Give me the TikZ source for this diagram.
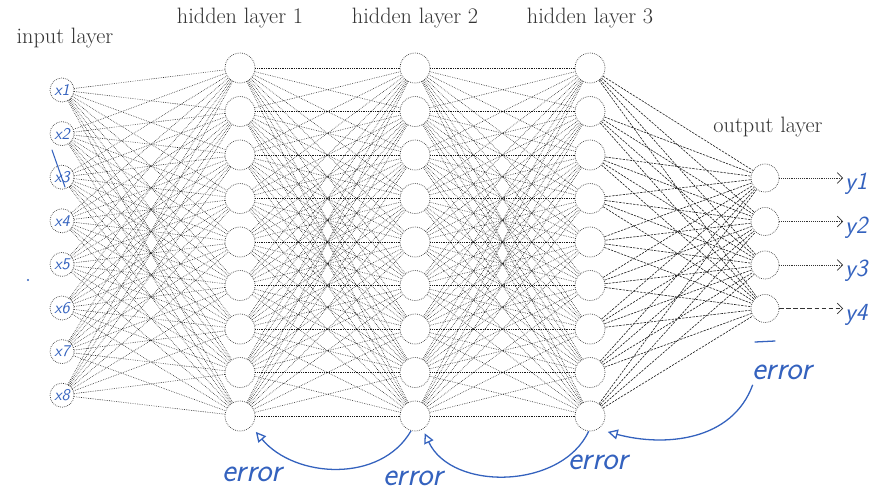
\documentclass[tikz,border=0pt]{standalone}
\usepackage{fontspec}
\usepackage{tikz}
\usetikzlibrary{arrows.meta,positioning,calc}
\definecolor{inkblue}{RGB}{52,98,190}
\tikzset{
  >={Stealth[length=2.2mm]},
  inunit/.style={circle,draw=black!80,densely dotted,line width=0.6pt,
    minimum size=7.2mm,inner sep=0pt,font=\fontsize{14}{15}\sffamily\itshape\selectfont,text=inkblue},
  hidunit/.style={circle,draw=black!80,densely dotted,line width=0.6pt,
    minimum size=9mm,inner sep=0pt},
  outunit/.style={circle,draw=black!80,densely dotted,line width=0.6pt,
    minimum size=8.4mm,inner sep=0pt},
  conn/.style={black!90,densely dotted,line width=0.5pt},
  outconn/.style={black!90,dashed,dash pattern=on 2pt off 1pt,line width=0.5pt},
  yarr/.style={-{Straight Barb[length=1.6mm]},black!80,densely dotted,line width=0.6pt},
  layerlbl/.style={font=\fontsize{19}{21}\selectfont,text=black!80,inner sep=1pt},
  hand/.style={font=\fontsize{28}{30}\sffamily\itshape\selectfont,text=inkblue,inner sep=1pt},
  outlbl/.style={font=\fontsize{21}{23}\sffamily\itshape\selectfont,text=inkblue,inner sep=0pt},
  errarr/.style={inkblue,line width=1.1pt,-{Triangle[open,length=3mm,width=3mm]}},
}
\begin{document}
\begin{tikzpicture}[x=0.03cm,y=-0.03cm]
  \useasboundingbox (0,0) rectangle (875,495);
  % layer titles
  \node[layerlbl] (tin) at (65,38) {input layer};
  \node[layerlbl] (th1) at (240,18) {hidden layer 1};
  \node[layerlbl] (th2) at (415,18) {hidden layer 2};
  \node[layerlbl] (th3) at (590,18) {hidden layer 3};
  \node[layerlbl] (tout) at (768,127) {output layer};
  % units
  \foreach \i in {1,...,8}
    \node[inunit] (i\i) at (62,{90+(\i-1)*43.6}) {x\i};
  \foreach \j in {1,...,9} {
    \node[hidunit] (a\j) at (240,{68+(\j-1)*43.5}) {};
    \node[hidunit] (b\j) at (415,{68+(\j-1)*43.5}) {};
    \node[hidunit] (c\j) at (590,{68+(\j-1)*43.5}) {};
  }
  \foreach \k in {1,...,4}
    \node[outunit] (o\k) at (765,{178+(\k-1)*43.5}) {};
  % weights
  \foreach \i in {1,...,8}
    \foreach \j in {1,...,9}
      \draw[conn] (i\i) -- (a\j);
  \foreach \i in {1,...,9}
    \foreach \j in {1,...,9} {
      \draw[conn] (a\i) -- (b\j);
      \draw[conn] (b\i) -- (c\j);
    }
  \foreach \i in {1,...,9}
    \foreach \k in {1,...,4}
      \draw[outconn] (c\i) -- (o\k);
  % outputs
  \foreach \k in {1,...,4} {
    \coordinate (t\k) at (843,{178+(\k-1)*43.5});
    \node[outlbl,anchor=west] (y\k) at (845,{184+(\k-1)*43.5}) {y\k};
  }
  \foreach \k in {1,2,3}
    \draw[yarr] (o\k) -- (t\k);
  \draw[yarr,solid,dash pattern=on 4pt off 2pt] (o4) -- (t4);
  % handwritten errors
  \node[hand] (e1) at (252,474) {error};
  \node[hand] (e2) at (413,478) {error};
  \node[hand] (e3) at (598,462) {error};
  \node[hand] (e4) at (782,372) {error};
  \draw[errarr] ($(e4.south west)+(2,4)$) to[out=-110,in=-15] ($(c9.-40)+(6,6)$);
  \draw[errarr] (c9.-95) to[out=-115,in=-65] ($(b9.-60)+(2,4)$);
  \draw[errarr] (b9.-105) to[out=-120,in=-50] ($(a9.-45)+(5,5)$);
  % stray pen marks
  \draw[inkblue,line width=1.1pt,line cap=round] (755,342) -- (775,341);
  \fill[inkblue] (28,280) circle (1.2);
  \draw[inkblue,line width=0.9pt,line cap=round] (52,150) -- (65,187);
\end{tikzpicture}
\end{document}
